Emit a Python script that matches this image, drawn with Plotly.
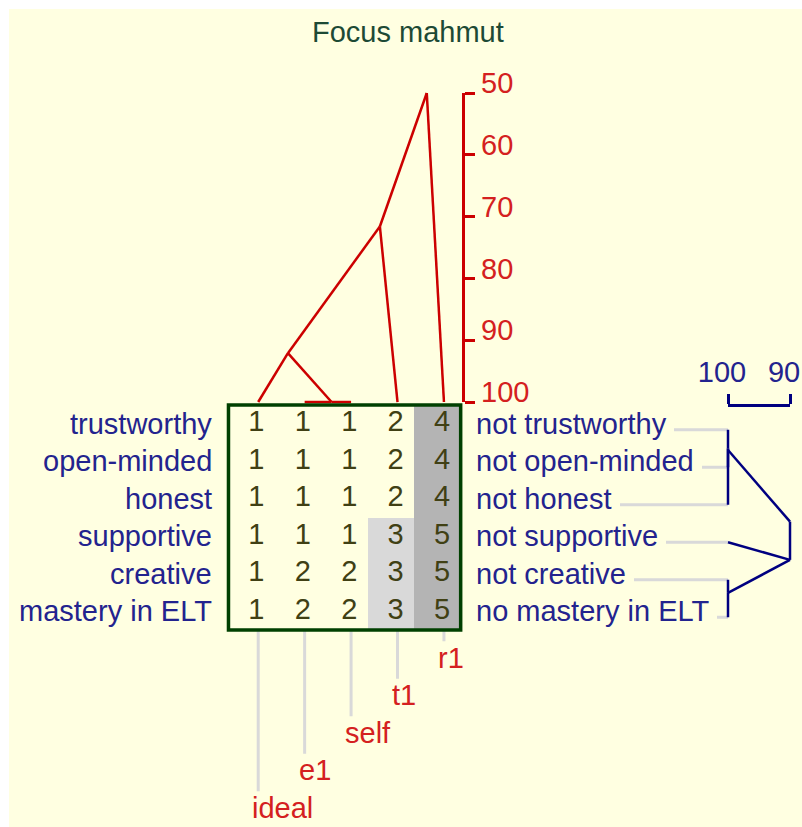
import plotly.graph_objects as go

title = "Focus mahmut"
elements = ["ideal", "e1", "self", "t1", "r1"]
poles_left = ["trustworthy", "open-minded", "honest", "supportive", "creative", "mastery in ELT"]
poles_right = ["not trustworthy", "not open-minded", "not honest",
               "not supportive", "not creative", "no mastery in ELT"]
ratings = [
    [1, 1, 1, 2, 4],
    [1, 1, 1, 2, 4],
    [1, 1, 1, 2, 4],
    [1, 1, 1, 3, 5],
    [1, 2, 2, 3, 5],
    [1, 2, 2, 3, 5],
]

# clusters: (child, child, similarity %), ids past the leaves are earlier joins
element_merges = [(1, 2, 100.0), (0, 5, 92.1), (6, 3, 71.6), (7, 4, 50.0)]
element_join_x = [1.72, 0.78, 2.76, 3.77]
element_scale = [50, 60, 70, 80, 90, 100]

construct_merges = [(0, 1, 100.0), (6, 2, 100.0), (4, 5, 100.0), (3, 8, 90.0), (7, 9, 90.0)]
construct_join_y = [0.66, 0.70, 4.51, 3.63, 2.61]
construct_scale = [100, 90]

BG = "#ffffe1"
RED = "#cc0000"
NAVY = "#000080"
FRAME = "#004000"
GRAY = "#d9d9d9"
FONT = "Liberation Sans, Arial, sans-serif"
W, H = 802, 827


def tree_segments(n_leaves, merges, joins, offset):
    pos = {i: (i + offset, 100.0) for i in range(n_leaves)}
    along, level = [], []
    for k, (a, b, lv) in enumerate(merges):
        node = (joins[k], lv)
        for child in (a, b):
            p, clv = pos[child]
            along += [p, node[0], None]
            level += [clv, lv, None]
        pos[n_leaves + k] = node
    return along, level


n_el, n_con = len(elements), len(poles_left)
fig = go.Figure()

fig.add_trace(go.Heatmap(
    z=ratings, x=list(range(n_el)), y=list(range(n_con)),
    zmin=1, zmax=5, showscale=False, hoverinfo="skip",
    colorscale=[[0, BG], [0.375, BG], [0.375, "#d9d9d9"], [0.625, "#d9d9d9"],
                [0.625, "#b4b4b4"], [1, "#b4b4b4"]],
))

dx, dy, dt = [], [], []
for r, row in enumerate(ratings):
    for i, v in enumerate(row):
        dx.append(i + 0.1)
        dy.append(r)
        dt.append(str(v))
fig.add_trace(go.Scatter(x=dx, y=dy, text=dt, mode="text", textposition="middle center",
                         textfont=dict(family=FONT, size=29, color="#404014"),
                         hoverinfo="skip"))

# element drop lines to staggered labels
lx, ly = [], []
for i in range(n_el):
    lx += [i + 0.14, i + 0.14, None]
    ly += [n_con - 0.5, 10.24 - i - 0.44, None]
fig.add_trace(go.Scatter(x=lx, y=ly, mode="lines", line=dict(color=GRAY, width=3),
                         hoverinfo="skip"))

# construct connectors to the construct tree
cx, cy = [], []
for r in range(n_con):
    cx += [140.5, 100, None]
    cy += [r + 0.16, r + 0.16, None]
fig.add_trace(go.Scatter(x=cx, y=cy, xaxis="x2", mode="lines",
                         line=dict(color=GRAY, width=3), hoverinfo="skip"))

ex, ey = tree_segments(n_el, element_merges, element_join_x, 0.14)
fig.add_trace(go.Scatter(x=ex, y=ey, yaxis="y2", mode="lines",
                         line=dict(color=RED, width=2.5), hoverinfo="skip"))

cy2, cx2 = tree_segments(n_con, construct_merges, construct_join_y, 0.16)
fig.add_trace(go.Scatter(x=cx2, y=cy2, xaxis="x2", mode="lines",
                         line=dict(color=NAVY, width=2.5), hoverinfo="skip"))

# carriers for the two visible scales
fig.add_trace(go.Scatter(x=[0], y=[75], yaxis="y3", mode="markers",
                         marker=dict(opacity=0), hoverinfo="skip"))
fig.add_trace(go.Scatter(x=[95], y=[0], xaxis="x3", mode="markers",
                         marker=dict(opacity=0), hoverinfo="skip"))

ann = []
for r, txt in enumerate(poles_left):
    ann.append(dict(x=-0.81, y=r, text=txt, xanchor="right", yanchor="middle",
                    font=dict(family=FONT, size=29, color="#23238e")))
for r, txt in enumerate(poles_right):
    ann.append(dict(x=4.83, y=r, text=txt + "\u00a0", xanchor="left", yanchor="middle",
                    bgcolor=BG, borderpad=0, borderwidth=0,
                    font=dict(family=FONT, size=29, color="#23238e")))
for i, txt in enumerate(elements):
    ann.append(dict(x=i - 0.03, y=10.24 - i, text=txt, xanchor="left", yanchor="middle",
                    font=dict(family=FONT, size=29, color="#d42020")))
ann.append(dict(xref="paper", yref="paper", x=408 / W, y=1 - 32 / H, text=title,
                xanchor="center", yanchor="middle",
                font=dict(family=FONT, size=29, color="#1d4a35")))
for a in ann:
    a.setdefault("showarrow", False)

hidden = dict(visible=False, automargin=False, showgrid=False, zeroline=False)

fig.update_layout(
    template="none",
    width=W, height=H, autosize=False,
    margin=dict(l=0, r=0, t=0, b=0, pad=0),
    paper_bgcolor="white", plot_bgcolor="rgba(0,0,0,0)",
    showlegend=False, hovermode=False,
    annotations=ann,
    shapes=[
        dict(type="rect", xref="paper", yref="paper", x0=9 / W, x1=1, y0=0, y1=1 - 9 / H,
             fillcolor=BG, line=dict(width=0), layer="below"),
        dict(type="rect", xref="x", yref="y", x0=-0.5, x1=n_el - 0.5, y0=-0.5, y1=n_con - 0.5,
             line=dict(color=FRAME, width=3.5)),
    ],
    xaxis=dict(domain=[0, 1], range=[-5.420, 11.850], anchor="y", **hidden),
    yaxis=dict(domain=[0, 1], range=[10.753, -11.3], anchor="x", **hidden),
    yaxis2=dict(domain=[0, 1], range=[168.77, 34.95], anchor="x", **hidden),
    xaxis2=dict(domain=[0, 1], range=[217.42, 88.065], anchor="y", **hidden),
    yaxis3=dict(domain=[1 - 402 / H, 1 - 93 / H], range=[100, 50], anchor="free",
                position=463.3 / W, side="right", showline=True, linecolor=RED, linewidth=3,
                ticks="outside", ticklen=10, tickwidth=3, tickcolor=RED,
                tickvals=element_scale, showgrid=False, zeroline=False, automargin=False,
                ticklabelshift=10,
                tickfont=dict(family=FONT, size=29, color="#d42020")),
    xaxis3=dict(domain=[728 / W, 790 / W], range=[100, 90], anchor="free",
                position=1 - 405 / H, side="top", showline=True, linecolor=NAVY, linewidth=3,
                ticks="outside", ticklen=10, tickwidth=3, tickcolor=NAVY,
                tickvals=construct_scale, showgrid=False, zeroline=False, automargin=False,
                ticklabelshift=6,
                tickfont=dict(family=FONT, size=29, color="#23238e")),
)

fig.write_html("out.html", config={"displayModeBar": False},
               post_script="document.body.style.margin='0px';")
